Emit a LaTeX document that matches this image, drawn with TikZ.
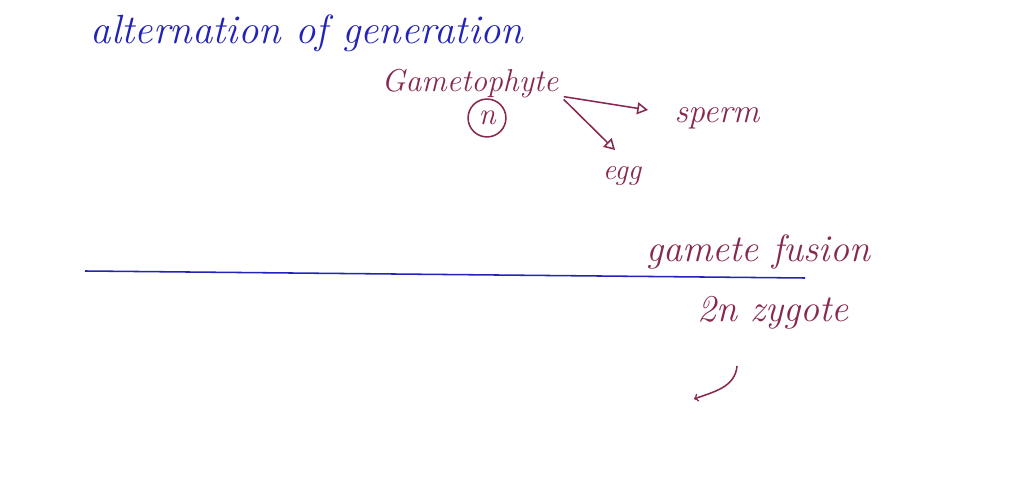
\documentclass[tikz,border=0pt]{standalone}
\usepackage{fontspec}
\usepackage{tikz}
\usetikzlibrary{arrows,positioning}
\definecolor{inkblue}{RGB}{35,35,185}
\definecolor{ink}{RGB}{135,40,80}

\begin{document}
\begin{tikzpicture}[x=0.25mm,y=-0.25mm,>=open triangle 60,line width=1.1pt,
    hand/.style={font=\fontsize{24}{28}\selectfont\itshape,text=ink},
    title/.style={font=\fontsize{29}{34}\selectfont\itshape,text=inkblue}]
  \useasboundingbox (0,0) rectangle (1024,500);
  \node[title] (alt) at (307,33) {alternation of generation};
  \node[hand,font=\fontsize{22.5}{27}\selectfont\itshape] (gameto) at (470,84) {Gametophyte};
  \node[draw=ink,circle,inner sep=4pt,hand,font=\fontsize{22}{26}\selectfont\itshape] (hap) at (487,118) {n};
  \node[hand] (sperm) at (717,118) {sperm};
  \node[hand,font=\fontsize{21}{25}\selectfont\itshape] (egg) at (622,176) {egg};
  \node[hand,font=\fontsize{27}{32}\selectfont\itshape] (fusion) at (758,252) {gamete fusion};
  \node[hand,font=\fontsize{27}{32}\selectfont\itshape] (zyg) at (773,313) {2n zygote};

  \coordinate (lineL) at (85,271);
  \coordinate (lineR) at (805,278);
  \coordinate (spermTip) at (648,110);
  \coordinate (eggTip) at (615,150);
  \coordinate (bentS) at (737,366);
  \coordinate (bentE) at (694,399);

  \draw[inkblue] (lineL) -- (lineR);
  \draw[->,ink] ([yshift=-9pt]gameto.east) -- (spermTip);
  \draw[->,ink] ([yshift=-11pt]gameto.east) -- (eggTip);
  \draw[-to,ink] (bentS) to[out=-95,in=20] (bentE);
\end{tikzpicture}
\end{document}
